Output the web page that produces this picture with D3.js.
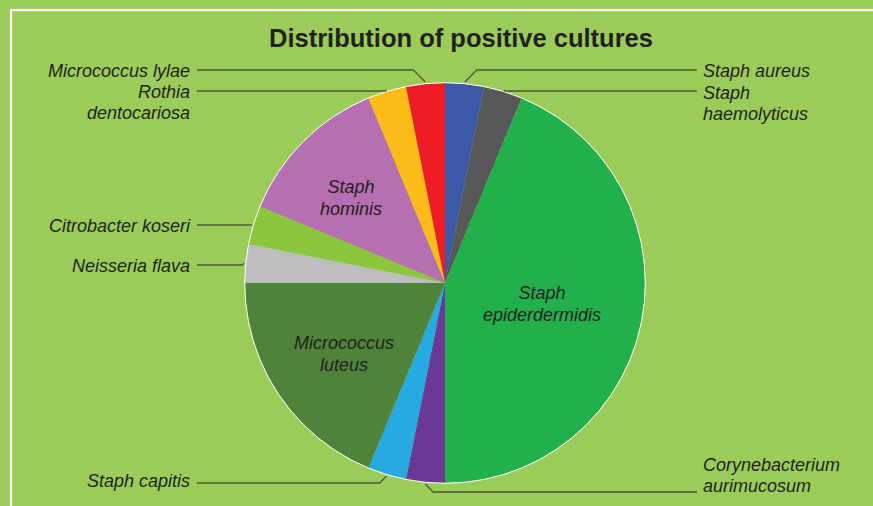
<!DOCTYPE html>
<html><head><meta charset="utf-8">
<script src="https://cdn.jsdelivr.net/npm/d3@7"></script>
<style>
html,body{margin:0;padding:0;background:#9bcc5a;}
svg{display:block;}
text{font-family:"Liberation Sans",Arial,sans-serif;fill:#231f20;}
</style></head>
<body><svg id="c" width="873" height="506"></svg>
<script>
const title = "Distribution of positive cultures";
const categories = ["Staph aureus","Staph haemolyticus","Staph epiderdermidis","Corynebacterium aurimucosum","Staph capitis","Micrococcus luteus","Neisseria flava","Citrobacter koseri","Staph hominis","Rothia dentocariosa","Micrococcus lylae"];
const values = [1,1,14,1,1,6,1,1,4,1,1];
const colors = ["#3e58a8","#58585a","#21b04b","#6b3a96","#27aae1","#4f833a","#bdbdbd","#8cc63f","#b66fb0","#fdbb19","#ec1d25"];
// label lines (wrapped text) and placement: inside or outside
const labelLines = [["Staph aureus"],["Staph","haemolyticus"],["Staph","epiderdermidis"],["Corynebacterium","aurimucosum"],["Staph capitis"],["Micrococcus","luteus"],["Neisseria flava"],["Citrobacter koseri"],["Staph","hominis"],["Rothia","dentocariosa"],["Micrococcus lylae"]];
const inside = [false,false,true,false,false,true,false,false,true,false,false];

const svg = d3.select("#c");
const W = 873, H = 506;
svg.append("rect").attr("x",0).attr("y",0).attr("width",W).attr("height",H).attr("fill","#9bcc5a");
svg.append("rect").attr("x",11).attr("y",10).attr("width",W+20).attr("height",H+20)
  .attr("fill","none").attr("stroke","#ffffff").attr("stroke-width",2.2);

svg.append("text").attr("x",461).attr("y",47).attr("text-anchor","middle")
  .style("font-weight","bold").style("font-size","25.5px").text(title);

const cx = 445, cy = 283, R = 200;
const data = categories.map((c,i)=>({name:c,value:values[i],color:colors[i],lines:labelLines[i],inside:inside[i]}));
const pie = d3.pie().value(d=>d.value).sort(null);
const arcs = pie(data);
const arc = d3.arc().innerRadius(0).outerRadius(R);
const g = svg.append("g").attr("transform",`translate(${cx},${cy})`);
g.selectAll("path.s").data(arcs).join("path").attr("class","s")
  .attr("d",arc).attr("fill",d=>d.data.color);
g.append("circle").attr("r",R+0.3).attr("fill","none").attr("stroke","#ffffff").attr("stroke-width",1);

// inside labels
const insidePos = {2:[97,20],5:[-101,70],8:[-94,-86]};
arcs.forEach((a,i)=>{
  if(!a.data.inside) return;
  const p = insidePos[i];
  const t = g.append("text").attr("text-anchor","middle").style("font-style","italic").style("font-size","18px");
  a.data.lines.forEach((l,k)=>{
    t.append("tspan").attr("x",p[0]).attr("y",p[1]+k*22 - (a.data.lines.length-1)*11 + 6.5).text(l);
  });
});

// outside labels: [labelY (first line center), side]
const outPos = {0:[70,"r"],1:[92,"r"],3:[464,"r"],4:[480,"l"],6:[265,"l"],7:[225,"l"],9:[91,"l"],10:[70,"l"]};
const lineY = {0:70,1:91,3:492,4:483,6:265,7:225,9:91,10:70};
const leftX = 197, rightX = 697;
arcs.forEach((a,i)=>{
  if(a.data.inside) return;
  const mid = (a.startAngle+a.endAngle)/2;
  const ex = Math.sin(mid)*(R+2), ey = -Math.cos(mid)*(R+2);
  const px = cx+ex, py = cy+ey;
  const ly = lineY[i];
  const side = outPos[i][1];
  const dy = ly-py;
  const bx = side==="r" ? px+Math.abs(dy) : px-Math.abs(dy);
  const pts = [[px,py],[bx,ly],[side==="r"?rightX:leftX,ly]];
  svg.append("path").attr("d",d3.line()(pts)).attr("fill","none")
    .attr("stroke","#4a5a34").attr("stroke-width",1.3);
  const t = svg.append("text").style("font-style","italic").style("font-size","18px")
    .attr("text-anchor",side==="r"?"start":"end");
  const tx = side==="r"?703:190;
  a.data.lines.forEach((l,k)=>{
    t.append("tspan").attr("x",tx).attr("y",outPos[i][0]+6.5+k*21).text(l);
  });
});
</script></body></html>
